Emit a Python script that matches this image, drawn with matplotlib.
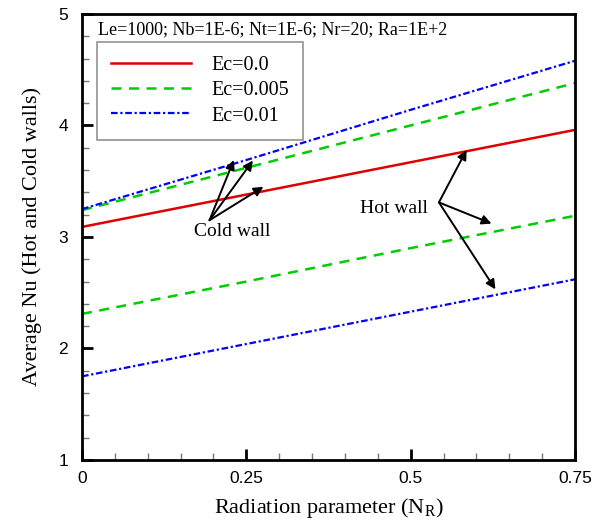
import numpy as np
import matplotlib
matplotlib.use("Agg")
import matplotlib.pyplot as plt
from matplotlib.ticker import MultipleLocator

# Average Nusselt number vs radiation parameter
nr = [0.0, 0.25, 0.5, 0.75]
nu_ec0 = [3.09, 3.38, 3.67, 3.96]
nu_ec005_cold = [3.24, 3.62, 4.00, 4.38]
nu_ec005_hot = [2.31, 2.60, 2.90, 3.19]
nu_ec01_cold = [3.25, 3.69, 4.14, 4.58]
nu_ec01_hot = [1.75, 2.04, 2.33, 2.62]

serif = ["Liberation Serif", "DejaVu Serif"]
sans = ["Liberation Sans", "DejaVu Sans"]

fig = plt.figure(figsize=(6.06, 5.26), dpi=100)
ax = fig.add_axes([0.1353, 0.1255, 0.8135, 0.848])

ax.plot(nr, nu_ec0, color="#e00000", lw=1.8, ls="-", label="Ec=0.0")
ax.plot(nr, nu_ec005_cold, color="#00cc00", lw=1.8, ls=(0, (4, 3)), label="Ec=0.005")
ax.plot(nr, nu_ec005_hot, color="#00cc00", lw=1.8, ls=(0, (4, 3)))
ax.plot(nr, nu_ec01_cold, color="#0000ff", lw=1.6, ls=(0, (3, 1.2, 1, 1.2)), label="Ec=0.01")
ax.plot(nr, nu_ec01_hot, color="#0000ff", lw=1.6, ls=(0, (3, 1.2, 1, 1.2)))

ax.set_xlim(0, 0.75)
ax.set_ylim(1, 5)
ax.xaxis.set_major_locator(MultipleLocator(0.25))
ax.xaxis.set_minor_locator(MultipleLocator(0.05))
ax.yaxis.set_major_locator(MultipleLocator(1))
ax.yaxis.set_minor_locator(MultipleLocator(0.2))
ax.set_xticks([0, 0.25, 0.5, 0.75])
ax.set_xticklabels(["0", "0.25", "0.5", "0.75"])

ax.tick_params(which="major", direction="in", length=8, width=2, labelsize=12.5, pad=8)
ax.tick_params(axis="y", which="major", pad=10)
ax.tick_params(which="minor", direction="in", length=5, width=1, color="#777777")
for lab in ax.get_xticklabels() + ax.get_yticklabels():
    lab.set_family(sans)
for sp in ax.spines.values():
    sp.set_linewidth(2)

ax.set_xlabel("Radiation parameter (N$_\\mathregular{R}$)", family=serif, fontsize=16, labelpad=7)
ax.set_ylabel("Average Nu (Hot and Cold walls)", family=serif, fontsize=16, labelpad=12)

ax.text(0.024, 4.86, "Le=1000; Nb=1E-6; Nt=1E-6; Nr=20; Ra=1E+2",
        family=serif, fontsize=13, va="center", ha="left")

leg = ax.legend(loc="upper left", bbox_to_anchor=(0.03, 0.937), borderaxespad=0,
                prop={"family": serif, "size": 14.5},
                frameon=True, fancybox=False, edgecolor="#777777", handlelength=4.0,
                handletextpad=1.0, borderpad=0.7, labelspacing=0.3)
leg.get_frame().set_linewidth(1.2)

# Arrow annotations
arrow = dict(arrowstyle="-|>", color="black", lw=1.4, mutation_scale=14, shrinkA=0, shrinkB=0)
cold_from = (0.194, 3.15)
for tip in [(0.231, 3.69), (0.260, 3.685), (0.276, 3.45)]:
    ax.annotate("", xy=tip, xytext=cold_from, arrowprops=arrow)
ax.text(0.228, 3.05, "Cold wall", family=serif, fontsize=14, ha="center", va="center")

hot_from = (0.543, 3.31)
for tip in [(0.585, 3.78), (0.623, 3.12), (0.629, 2.53)]:
    ax.annotate("", xy=tip, xytext=hot_from, arrowprops=arrow)
ax.text(0.475, 3.255, "Hot wall", family=serif, fontsize=14, ha="center", va="center")

fig.savefig("out.png", dpi=100)
